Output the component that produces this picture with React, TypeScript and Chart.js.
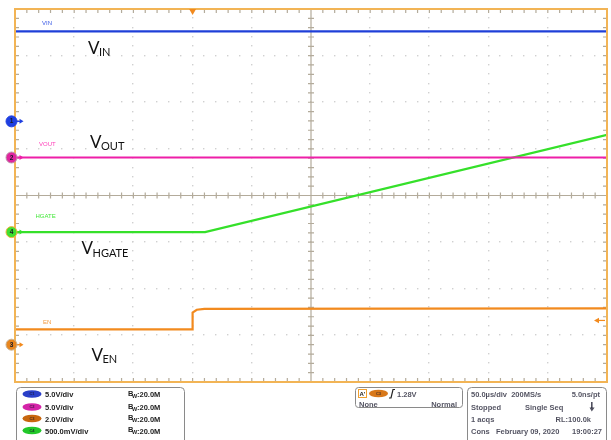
import React, { useEffect, useRef } from "react";
import { Chart, registerables } from "chart.js";

Chart.register(...registerables);

// Time axis in divisions (0..10), vertical axis in divisions (-4..4, centre = 0)
const VIN_T = [0, 10];
const VIN_V = [3.52, 3.52];
const VOUT_T = [0, 10];
const VOUT_V = [0.815, 0.815];
const HGATE_T = [0, 3.21, 10];
const HGATE_V = [-0.785, -0.785, 1.3];
const EN_T = [0, 2.99, 3.0, 3.07, 3.2, 10];
const EN_V = [-2.87, -2.87, -2.51, -2.45, -2.43, -2.42];

const TRACE_LABELS = ["VIN", "VOUT", "HGATE", "EN"];
const SCALE_LABELS = ["5.0V/div", "5.0V/div", "2.0V/div", "500.0mV/div"];
const BW_LABELS = ["20.0M", "20.0M", "20.0M", "20.0M"];

const BLUE = "#1f3fd8";
const MAGENTA = "#ee1fa8";
const GREEN = "#35e02a";
const ORANGE = "#f28a1e";

const pts = (t: number[], v: number[]) => t.map((x, i) => ({ x, y: v[i] }));

const scopePlugin = {
  id: "scope",
  beforeDatasetsDraw(chart: any) {
    const { ctx, chartArea: a } = chart;
    const W = a.right - a.left;
    const H = a.bottom - a.top;
    const dx = W / 10;
    const dy = H / 8;
    ctx.save();
    // dotted graticule
    ctx.fillStyle = "#d0d0d0";
    for (let i = 1; i < 10; i++) {
      if (i === 5) continue;
      const x = a.left + i * dx;
      for (let k = 1; k < 40; k++) {
        const y = a.top + (k * dy) / 5;
        ctx.fillRect(Math.round(x) - 1, Math.round(y) - 1, 1.4, 1.4);
      }
    }
    for (let j = 1; j < 8; j++) {
      if (j === 4) continue;
      const y = a.top + j * dy;
      for (let k = 1; k < 50; k++) {
        const x = a.left + (k * dx) / 5;
        ctx.fillRect(Math.round(x) - 1, Math.round(y) - 1, 1.4, 1.4);
      }
    }
    // centre cross
    const cx = a.left + 5 * dx;
    const cy = a.top + 4 * dy;
    ctx.strokeStyle = "#b3ab9b";
    ctx.lineWidth = 1.2;
    ctx.beginPath();
    ctx.moveTo(cx, a.top);
    ctx.lineTo(cx, a.bottom);
    ctx.moveTo(a.left, cy);
    ctx.lineTo(a.right, cy);
    for (let k = 1; k < 50; k++) {
      const x = a.left + (k * dx) / 5;
      ctx.moveTo(x, cy - 3);
      ctx.lineTo(x, cy + 3);
    }
    for (let k = 1; k < 40; k++) {
      const y = a.top + (k * dy) / 5;
      ctx.moveTo(cx - 3, y);
      ctx.lineTo(cx + 3, y);
    }
    // edge ticks
    for (let k = 1; k < 50; k++) {
      const x = a.left + (k * dx) / 5;
      ctx.moveTo(x, a.top);
      ctx.lineTo(x, a.top + 4);
      ctx.moveTo(x, a.bottom);
      ctx.lineTo(x, a.bottom - 4);
    }
    for (let k = 1; k < 40; k++) {
      const y = a.top + (k * dy) / 5;
      ctx.moveTo(a.left, y);
      ctx.lineTo(a.left + 4, y);
      ctx.moveTo(a.right, y);
      ctx.lineTo(a.right - 4, y);
    }
    ctx.stroke();
    ctx.restore();
  },
  afterDatasetsDraw(chart: any) {
    const { ctx, chartArea: a, scales } = chart;
    const xs = scales.x;
    const ys = scales.y;
    ctx.save();
    // border
    ctx.strokeStyle = "#f2b455";
    ctx.lineWidth = 2;
    ctx.strokeRect(a.left, a.top, a.right - a.left, a.bottom - a.top);

    // small trace labels
    ctx.font = "6px 'Liberation Sans', Arial, sans-serif";
    ctx.textBaseline = "middle";
    const small = [
      { t: TRACE_LABELS[0], c: "#3a5ae6", x: 42, y: 23.5 },
      { t: TRACE_LABELS[1], c: "#ff3cb8", x: 39, y: 144.5 },
      { t: TRACE_LABELS[2], c: "#44e83a", x: 35.5, y: 216 },
      { t: TRACE_LABELS[3], c: "#f29a40", x: 43, y: 322.5 },
    ];
    small.forEach((s) => {
      ctx.fillStyle = s.c;
      ctx.fillText(s.t, s.x, s.y);
    });

    // big labels with subscripts
    const big = [
      { sub: "IN", x: 88, y: 53.5 },
      { sub: "OUT", x: 90, y: 147.5 },
      { sub: "HGATE", x: 81.5, y: 254 },
      { sub: "EN", x: 91.5, y: 360.5 },
    ];
    ctx.fillStyle = "#111";
    ctx.textBaseline = "alphabetic";
    big.forEach((b) => {
      ctx.font = "17px Lato, 'Open Sans', sans-serif";
      ctx.fillText("V", b.x, b.y);
      const w = ctx.measureText("V").width;
      ctx.font = "11px Lato, 'Open Sans', sans-serif";
      ctx.fillText(b.sub, b.x + w - 0.5, b.y + 2.8);
    });

    // channel markers on left
    const markers = [
      { n: "1", fill: "#1f3fe0", ring: "#1f3fe0", arrow: "#1f3fe0", y: ys.getPixelForValue(1.59) },
      { n: "2", fill: "#e0249e", ring: "#b89aa8", arrow: MAGENTA, y: ys.getPixelForValue(VOUT_V[0]) },
      { n: "4", fill: "#3ee030", ring: "#f2b040", arrow: GREEN, y: ys.getPixelForValue(HGATE_V[0]) },
      { n: "3", fill: "#e8861e", ring: "#c8b090", arrow: ORANGE, y: ys.getPixelForValue(-3.2) },
    ];
    markers.forEach((m) => {
      ctx.strokeStyle = m.arrow;
      ctx.fillStyle = m.arrow;
      ctx.lineWidth = 1.2;
      ctx.beginPath();
      ctx.moveTo(16, m.y);
      ctx.lineTo(21, m.y);
      ctx.stroke();
      ctx.beginPath();
      ctx.moveTo(23.5, m.y);
      ctx.lineTo(19.5, m.y - 2.5);
      ctx.lineTo(19.5, m.y + 2.5);
      ctx.closePath();
      ctx.fill();
      ctx.beginPath();
      ctx.arc(11.5, m.y, 5.5, 0, Math.PI * 2);
      ctx.fillStyle = m.fill;
      ctx.fill();
      ctx.lineWidth = 1;
      ctx.strokeStyle = m.ring;
      ctx.stroke();
      ctx.fillStyle = "#1a1a2a";
      ctx.font = "bold 6.5px 'Liberation Sans', Arial, sans-serif";
      ctx.textAlign = "center";
      ctx.textBaseline = "middle";
      ctx.fillText(m.n, 11.5, m.y + 0.3);
      ctx.textAlign = "left";
    });

    // trigger markers
    const tx = xs.getPixelForValue(3.0);
    ctx.fillStyle = ORANGE;
    ctx.beginPath();
    ctx.moveTo(tx - 3.5, a.top);
    ctx.lineTo(tx + 3.5, a.top);
    ctx.lineTo(tx, a.top + 6);
    ctx.closePath();
    ctx.fill();
    const ty = ys.getPixelForValue(-2.68);
    ctx.beginPath();
    ctx.moveTo(594, ty);
    ctx.lineTo(599, ty - 2.8);
    ctx.lineTo(599, ty + 2.8);
    ctx.closePath();
    ctx.fill();
    ctx.strokeStyle = ORANGE;
    ctx.lineWidth = 1.2;
    ctx.beginPath();
    ctx.moveTo(598, ty);
    ctx.lineTo(605, ty);
    ctx.stroke();

    // bottom panel
    const rr = (x: number, y: number, w: number, h: number, r: number) => {
      ctx.beginPath();
      ctx.moveTo(x + r, y);
      ctx.lineTo(x + w - r, y);
      ctx.quadraticCurveTo(x + w, y, x + w, y + r);
      ctx.lineTo(x + w, y + h - r);
      ctx.quadraticCurveTo(x + w, y + h, x + w - r, y + h);
      ctx.lineTo(x + r, y + h);
      ctx.quadraticCurveTo(x, y + h, x, y + h - r);
      ctx.lineTo(x, y + r);
      ctx.quadraticCurveTo(x, y, x + r, y);
      ctx.closePath();
      ctx.stroke();
    };
    ctx.strokeStyle = "#8a8a8a";
    ctx.lineWidth = 1;
    rr(16.5, 387.5, 168, 60, 4);
    rr(355.5, 387.5, 107, 20, 3);
    rr(467.5, 387.5, 139, 60, 4);

    const pill = (cx: number, cy: number, col: string, label: string) => {
      ctx.beginPath();
      ctx.ellipse(cx, cy, 9.5, 3.8, 0, 0, Math.PI * 2);
      ctx.fillStyle = col;
      ctx.fill();
      ctx.fillStyle = "rgba(20,20,40,0.75)";
      ctx.font = "bold 4px 'Liberation Sans', Arial, sans-serif";
      ctx.textAlign = "center";
      ctx.textBaseline = "middle";
      ctx.fillText(label, cx, cy + 0.3);
      ctx.textAlign = "left";
      ctx.textBaseline = "alphabetic";
    };
    const pillCols = ["#2a3fc8", "#d424a8", "#c8660f", "#22c82a"];
    const rowsL = [397, 410, 421.5, 433.5];
    const F = "bold 7.5px 'Liberation Sans', Arial, sans-serif";
    rowsL.forEach((by, i) => {
      pill(32, by - 3, pillCols[i], "C" + (i + 1));
      ctx.fillStyle = "#222";
      ctx.font = F;
      ctx.fillText(SCALE_LABELS[i], 45, by);
      ctx.fillText("B", 128, by - 1.5);
      ctx.font = "bold 5.5px 'Liberation Sans', Arial, sans-serif";
      ctx.fillText("W", 132, by + 0.5);
      ctx.font = F;
      ctx.fillText(":" + BW_LABELS[i], 137, by);
    });

    // trigger box
    ctx.strokeStyle = "#f0a030";
    ctx.lineWidth = 1;
    ctx.strokeRect(358.5, 389.5, 8, 8);
    ctx.fillStyle = "#222";
    ctx.font = "bold 6px 'Liberation Sans', Arial, sans-serif";
    ctx.fillText("A'", 359.5, 396);
    pill(378.5, 393.5, "#d8781a", "C3");
    ctx.strokeStyle = "#222";
    ctx.lineWidth = 1.2;
    ctx.beginPath();
    ctx.moveTo(389, 398);
    ctx.lineTo(391, 398);
    ctx.lineTo(393, 389.5);
    ctx.lineTo(395, 389.5);
    ctx.stroke();
    ctx.font = F;
    ctx.fillText("1.28V", 397, 396.5);
    ctx.fillText("None", 359, 406.5);
    ctx.textAlign = "right";
    ctx.fillText("Normal", 457, 406.5);
    ctx.textAlign = "left";

    // right box
    const rowsR = [396.5, 410, 422, 434];
    ctx.fillText("50.0\u00b5s/div  200MS/s", 471, rowsR[0]);
    ctx.textAlign = "right";
    ctx.fillText("5.0ns/pt", 600, rowsR[0]);
    ctx.textAlign = "left";
    ctx.fillText("Stopped", 471, rowsR[1]);
    ctx.fillText("Single Seq", 525, rowsR[1]);
    ctx.fillRect(591, rowsR[1] - 8, 1.6, 6);
    ctx.beginPath();
    ctx.moveTo(589.5, rowsR[1] - 2.5);
    ctx.lineTo(594.6, rowsR[1] - 2.5);
    ctx.lineTo(591.8, rowsR[1] + 1.5);
    ctx.closePath();
    ctx.fill();
    ctx.fillText("1 acqs", 471, rowsR[2]);
    ctx.textAlign = "right";
    ctx.fillText("RL:100.0k", 591, rowsR[2]);
    ctx.textAlign = "left";
    ctx.fillText("Cons   February 09, 2020", 471, rowsR[3]);
    ctx.textAlign = "right";
    ctx.fillText("19:00:27", 602, rowsR[3]);
    ctx.restore();
  },
};

export default function App() {
  const ref = useRef<HTMLCanvasElement | null>(null);
  useEffect(() => {
    if (!ref.current) return;
    const chart = new Chart(ref.current, {
      type: "line",
      data: {
        datasets: [
          { label: "EN", data: pts(EN_T, EN_V), borderColor: ORANGE, borderWidth: 2.2 },
          { label: "VOUT", data: pts(VOUT_T, VOUT_V), borderColor: MAGENTA, borderWidth: 2.2 },
          { label: "HGATE", data: pts(HGATE_T, HGATE_V), borderColor: GREEN, borderWidth: 2.2 },
          { label: "VIN", data: pts(VIN_T, VIN_V), borderColor: BLUE, borderWidth: 2.4 },
        ],
      },
      options: {
        animation: false,
        responsive: false,
        devicePixelRatio: 1,
        layout: { padding: { left: 15, top: 9, right: 4, bottom: 58 } },
        scales: {
          x: { type: "linear", min: 0, max: 10, display: false },
          y: { type: "linear", min: -4, max: 4, display: false },
        },
        elements: { point: { radius: 0 }, line: { tension: 0 } },
        plugins: { legend: { display: false }, tooltip: { enabled: false } },
      },
      plugins: [scopePlugin],
    } as any);
    return () => chart.destroy();
  }, []);
  return (
    <div style={{ position: "fixed", left: 0, top: 0, width: 611, height: 440, background: "#fff" }}>
      <canvas ref={ref} width={611} height={440} style={{ display: "block" }} />
    </div>
  );
}
